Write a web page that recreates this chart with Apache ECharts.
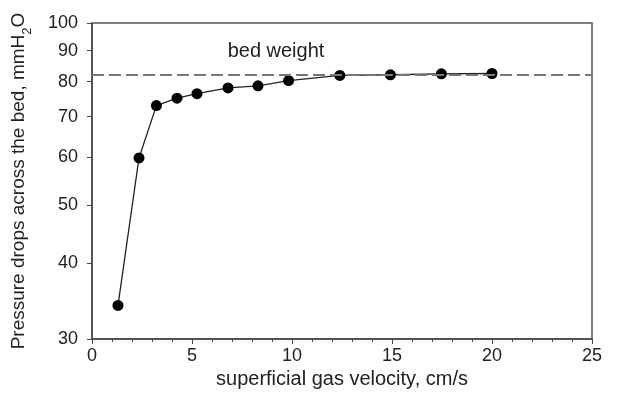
<!DOCTYPE html>
<html>
<head>
<meta charset="utf-8">
<script src="https://cdn.jsdelivr.net/npm/echarts@6/dist/echarts.min.js"></script>
<style>
  html, body { margin: 0; padding: 0; background: #fff; }
  #main { width: 631px; height: 397px; }
</style>
</head>
<body>
<div id="main"></div>
<script>
  // superficial gas velocity, cm/s
  const velocity = [1.3, 2.35, 3.22, 4.25, 5.25, 6.8, 8.3, 9.83, 12.39, 14.92, 17.47, 20.0];
  // pressure drop, mmH2O
  const pressure = [34.1, 59.8, 73.0, 75.1, 76.4, 78.1, 78.7, 80.3, 81.9, 82.1, 82.4, 82.5];
  const bedWeight = 82.1;
  const yTicks = [30, 40, 50, 60, 70, 80, 90, 100];

  const font = "'Liberation Sans', Arial, sans-serif";
  let myChart = echarts.init(document.getElementById("main"));
  let option = {
    animation: false,
    grid: {
      left: 92,
      right: 39,
      top: 23,
      bottom: 58,
      show: true,
      borderColor: "#555",
      borderWidth: 1.5,
    },
    xAxis: {
      type: "value",
      min: 0,
      max: 25,
      interval: 5,
      name: "superficial gas velocity, cm/s",
      nameLocation: "middle",
      nameGap: 28,
      nameTextStyle: { fontFamily: font, fontSize: 20, color: "#222" },
      axisLine: { lineStyle: { color: "#444", width: 1.5 } },
      axisTick: { inside: false, length: 5, lineStyle: { color: "#444" } },
      minorTick: { show: true, splitNumber: 5, length: 3, lineStyle: { color: "#444" } },
      axisLabel: { fontFamily: font, fontSize: 18, color: "#222", margin: 8 },
      splitLine: { show: false },
    },
    yAxis: {
      type: "log",
      logBase: 10,
      min: 30,
      max: 100,
      name: "{a|Pressure drops across the bed, mmH}{s|2}{a|O}",
      nameLocation: "middle",
      nameGap: 58,
      nameTextStyle: {
        fontFamily: font,
        color: "#222",
        rich: {
          a: { fontFamily: font, fontSize: 19, color: "#222", lineHeight: 25, verticalAlign: "top" },
          s: { fontFamily: font, fontSize: 13, color: "#222", lineHeight: 25, verticalAlign: "bottom" },
        },
      },
      axisLine: { show: true, lineStyle: { color: "#444", width: 1.5 } },
      axisTick: { show: true, inside: false, length: 5, customValues: yTicks, lineStyle: { color: "#444" } },
      axisLabel: { fontFamily: font, fontSize: 18, color: "#222", margin: 14, customValues: yTicks },
      splitLine: { show: false },
    },
    series: [
      {
        type: "line",
        data: velocity.map((v, i) => [v, pressure[i]]),
        symbol: "circle",
        symbolSize: 11,
        itemStyle: { color: "#000" },
        lineStyle: { color: "#222", width: 1.3 },
        markLine: {
          silent: true,
          symbol: "none",
          label: { show: false },
          lineStyle: { color: "#777", width: 2, type: [12, 5] },
          data: [{ yAxis: bedWeight }],
        },
        markPoint: {
          symbol: "circle",
          symbolSize: 0,
          label: {
            show: true,
            formatter: "bed weight",
            fontFamily: font,
            fontSize: 20,
            color: "#222",
          },
          data: [{ coord: [9.2, 89.7] }],
        },
      },
    ],
  };
  myChart.setOption(option);
</script>
</body>
</html>
